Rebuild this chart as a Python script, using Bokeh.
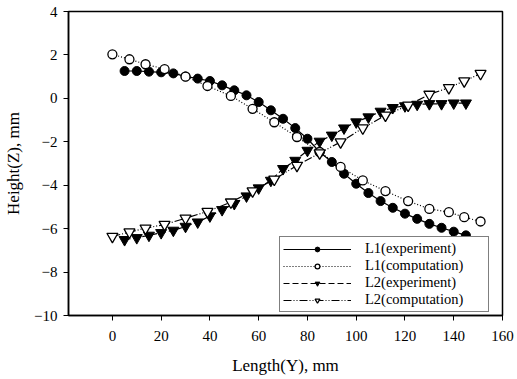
from bokeh.plotting import figure
from bokeh.models import Range1d, FixedTicker, Legend, LegendItem
from bokeh.embed import file_html
from bokeh.resources import INLINE

# L1 experiment
l1e_x = [5, 10, 15, 20, 25, 30, 35, 40, 45, 50, 55, 60, 65, 70, 75, 80, 85, 90, 95,
         100, 105, 110, 115, 120, 125, 130, 135, 140, 145]
l1e_y = [1.26, 1.26, 1.23, 1.2, 1.15, 1.01, 0.91, 0.8, 0.6, 0.37, 0.14, -0.17, -0.55,
         -0.94, -1.37, -1.86, -2.47, -2.93, -3.47, -3.93, -4.36, -4.73, -5.04, -5.31,
         -5.55, -5.78, -5.96, -6.14, -6.31]

# L1 computation
l1c_x = [0, 7, 13.6, 21.4, 30, 39, 48.6, 57.5, 66.4, 75.7, 85, 93.6, 102.7, 112,
         121.3, 130, 138, 144.3, 151]
l1c_y = [2.03, 1.8, 1.57, 1.35, 1.0, 0.57, 0.11, -0.48, -1.1, -1.78, -2.47, -3.16,
         -3.78, -4.27, -4.73, -5.09, -5.24, -5.47, -5.67]

# L2 experiment
l2e_x = l1e_x
l2e_y = [-6.51, -6.42, -6.31, -6.19, -6.08, -5.9, -5.7, -5.42, -5.13, -4.85, -4.5,
         -4.13, -3.78, -3.24, -2.86, -2.4, -1.98, -1.7, -1.37, -1.09, -0.86, -0.6,
         -0.43, -0.35, -0.28, -0.25, -0.25, -0.22, -0.22]

# L2 computation
l2c_x = l1c_x
l2c_y = [-6.36, -6.16, -5.98, -5.81, -5.52, -5.21, -4.78, -4.27, -3.73, -3.09, -2.52,
         -2.01, -1.37, -0.78, -0.32, 0.18, 0.49, 0.8, 1.14]

x_ticks = [0, 20, 40, 60, 80, 100, 120, 140, 160]
y_ticks = [-10, -8, -6, -4, -2, 0, 2, 4]

FONT = "Liberation Serif"

p = figure(width=517, height=379, output_backend="svg", toolbar_location=None,
           x_range=Range1d(-18, 160), y_range=Range1d(-10, 4),
           min_border_left=68, min_border_right=15, min_border_top=11,
           min_border_bottom=64)
p.grid.visible = False
p.outline_line_color = "black"
p.outline_line_width = 1.5
p.background_fill_color = "white"
p.border_fill_color = "white"

for ax in (p.xaxis, p.yaxis):
    ax.axis_line_color = "black"
    ax.axis_line_width = 1.5
    ax.major_tick_line_color = "black"
    ax.major_tick_out = 5
    ax.major_tick_in = 0
    ax.minor_tick_line_color = None
    ax.major_label_text_font = FONT
    ax.major_label_text_font_size = "15px"
    ax.major_label_text_color = "black"
    ax.axis_label_text_font = FONT
    ax.axis_label_text_font_size = "17px"
    ax.axis_label_text_font_style = "normal"
    ax.axis_label_text_color = "black"

p.xaxis.ticker = FixedTicker(ticks=x_ticks)
p.yaxis.ticker = FixedTicker(ticks=y_ticks)
p.xaxis.axis_label = "Length(Y), mm"
p.yaxis.axis_label = "Height(Z), mm"
p.xaxis.major_label_standoff = 10
p.xaxis.axis_label_standoff = 12
p.yaxis.major_label_standoff = 6
p.yaxis.axis_label_standoff = 8

r1l = p.line(l1e_x, l1e_y, line_color="black", line_width=1.2)
r1m = p.scatter(l1e_x, l1e_y, marker="circle", size=9, fill_color="black", line_color="black")
r2l = p.line(l1c_x, l1c_y, line_color="black", line_width=1.2, line_dash="1 2")
r2m = p.scatter(l1c_x, l1c_y, marker="circle", size=9, fill_color="white", line_color="black", line_width=1.3)
r3l = p.line(l2e_x, l2e_y, line_color="black", line_width=1.2, line_dash="6 3")
r3m = p.scatter(l2e_x, l2e_y, marker="inverted_triangle", size=11, fill_color="black", line_color="black")
r4l = p.line(l2c_x, l2c_y, line_color="black", line_width=1.2, line_dash="8 2 1 2 1 2")
r4m = p.scatter(l2c_x, l2c_y, marker="inverted_triangle", size=11, fill_color="white", line_color="black", line_width=1.3)

legend = Legend(items=[
    LegendItem(label="L1(experiment)", renderers=[r1l, r1m]),
    LegendItem(label="L1(computation)", renderers=[r2l, r2m]),
    LegendItem(label="L2(experiment)", renderers=[r3l, r3m]),
    LegendItem(label="L2(computation)", renderers=[r4l, r4m]),
], location=(211, 3))
legend.border_line_color = "black"
legend.border_line_width = 1.5
legend.background_fill_alpha = 1
legend.label_text_font = FONT
legend.label_text_font_size = "14.5px"
legend.label_text_color = "black"
legend.glyph_width = 68
legend.glyph_height = 12
legend.label_height = 12
legend.label_width = 120
legend.spacing = 0
legend.padding = 3
legend.margin = 0
legend.label_standoff = 14
p.add_layout(legend, "center")

open("out.html", "w").write(file_html(p, INLINE))
